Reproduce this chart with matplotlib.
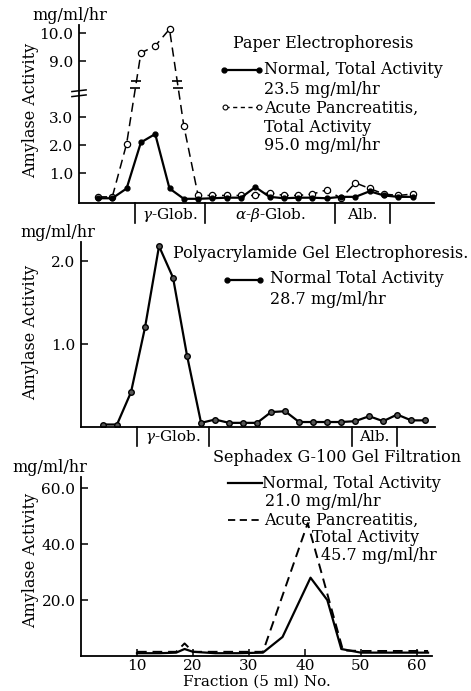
import numpy as np
import matplotlib.pyplot as plt
from matplotlib.lines import Line2D

plt.rcParams['font.family'] = ['DejaVu Serif']
plt.rcParams['mathtext.fontset'] = 'dejavuserif'

# ---- data ----
# Paper electrophoresis (fraction index)
paper_frac = np.arange(23)
paper_normal = [0.10, 0.10, 0.45, 2.10, 2.40, 0.45, 0.08, 0.08, 0.10, 0.12, 0.12, 0.50,
                0.15, 0.10, 0.12, 0.12, 0.10, 0.15, 0.15, 0.35, 0.20, 0.15, 0.15]
paper_acute = [0.15, 0.15, 2.05, 9.30, 9.55, 10.15, 2.70, 0.20, 0.20, 0.20, 0.20, 0.20,
               0.30, 0.20, 0.20, 0.25, 0.40, 0.10, 0.65, 0.45, 0.25, 0.20, 0.25]
paper_bounds = [2.6, 7.5, 16.6, 20.4]
paper_zones = ['$\\gamma$-Glob.', '$\\alpha$-$\\beta$-Glob.', 'Alb.']

# Polyacrylamide gel electrophoresis
pag_frac = np.arange(24)
pag_normal = [0.03, 0.03, 0.42, 1.20, 2.18, 1.80, 0.86, 0.05, 0.09, 0.05, 0.05, 0.05,
              0.18, 0.19, 0.06, 0.06, 0.06, 0.06, 0.07, 0.13, 0.07, 0.15, 0.08, 0.08]
pag_bounds = [2.45, 7.55, 17.8, 21.0]
pag_zones = ['$\\gamma$-Glob.', None, 'Alb.']

# Sephadex G-100 gel filtration (fraction no.)
seph_normal_x = [10, 14, 17, 18.5, 20, 24, 28, 32.5, 36, 41, 44, 46.5, 50, 54, 58, 62]
seph_normal_y = [1.0, 1.0, 1.2, 2.5, 1.5, 1.0, 1.0, 1.2, 6.8, 28.0, 20.0, 2.5, 1.2, 1.2, 1.2, 1.2]
seph_acute_x = [10, 14, 17, 18.5, 20, 24, 28, 32.5, 40.5, 46.8, 50, 54, 58, 62]
seph_acute_y = [1.5, 1.5, 1.5, 4.5, 1.5, 1.5, 1.5, 1.5, 47.5, 2.0, 1.8, 1.8, 1.8, 1.8]

W, H = 471, 691
fig = plt.figure(figsize=(W / 100, H / 100), dpi=100)


def box(l, t, r, b):
    return [l / W, 1 - b / H, (r - l) / W, (b - t) / H]


def fxy(x, y):
    return x / W, 1 - y / H


FS = 11.5
TFS = 11


def style(ax):
    for s in ['top', 'right']:
        ax.spines[s].set_visible(False)
    for s in ['left', 'bottom']:
        ax.spines[s].set_linewidth(1.3)
    ax.tick_params(direction='in', length=5, width=1.1, labelsize=TFS, pad=4)


# broken y scale for the paper electrophoresis panel
def fwd(y):
    y = np.asarray(y, float)
    return np.where(y <= 4, y, np.where(y >= 8, y - 4 + 0.004, 4 + (y - 4) * 0.001))


def inv(d):
    d = np.asarray(d, float)
    return np.where(d <= 4, d, np.where(d >= 4.004, d + 4 - 0.004, 4 + (d - 4) / 0.001))


def brackets(ax, bounds, zones, top_len, text_y):
    tr = ax.get_xaxis_transform()
    for b in bounds:
        ax.plot([b, b], [0, -top_len], color='k', lw=1.2, transform=tr, clip_on=False)
    for (a, b), z in zip(zip(bounds[:-1], bounds[1:]), zones):
        if z:
            ax.text((a + b) / 2, text_y, z, transform=tr, ha='center', va='center', fontsize=FS - 0.5)


# ---- top: paper electrophoresis ----
ax1 = fig.add_axes(box(79, 25, 434, 203))
style(ax1)
ax1.set_yscale('function', functions=(fwd, inv))
ax1.plot(paper_frac, paper_acute, color='k', lw=1.1, dashes=(6, 3.5),
         marker='o', ms=4.5, mfc='white', mec='k', mew=0.9)
ax1.plot(paper_frac, paper_normal, color='k', lw=1.6,
         marker='o', ms=3.5, mfc='k', mec='k')
# break marks on the dashed curve where it crosses the gap
d = fwd(paper_acute)
for lvl in [4.04, 4.30]:
    for i in range(len(d) - 1):
        if (d[i] - lvl) * (d[i + 1] - lvl) < 0:
            xc = paper_frac[i] + (lvl - d[i]) / (d[i + 1] - d[i])
            ax1.plot([xc], [inv(lvl)], marker='_', ms=7, mew=1.2, color='k')
ax1.set_xlim(-1.33, 23.5)
ax1.set_ylim(-0.07, 10.3)
ax1.set_yticks([1, 2, 3, 9, 10])
ax1.set_yticklabels(['1.0', '2.0', '3.0', '9.0', '10.0'])
ax1.set_xticks([])
# axis break
tr = ax1.get_yaxis_transform()
ax1.plot([-0.02, 0.02], [3.74, 3.80], color='k', lw=1.1, transform=tr, clip_on=False)
ax1.plot([-0.02, 0.02], [3.92, 3.98], color='k', lw=1.1, transform=tr, clip_on=False)
brackets(ax1, paper_bounds, paper_zones, 0.11, -0.07)

# ---- middle: polyacrylamide gel ----
ax2 = fig.add_axes(box(81, 242, 435, 427))
style(ax2)
ax2.plot(pag_frac, pag_normal, color='k', lw=1.6, marker='o', ms=4, mfc='#555555', mec='k', mew=1)
ax2.set_xlim(-1.57, 23.7)
ax2.set_ylim(0, 2.23)
ax2.set_yticks([1, 2])
ax2.set_yticklabels(['1.0', '2.0'])
ax2.set_xticks([])
brackets(ax2, pag_bounds, pag_zones, 0.105, -0.055)

# ---- bottom: Sephadex ----
ax3 = fig.add_axes(box(81, 477, 432, 656))
style(ax3)
ax3.plot(seph_acute_x, seph_acute_y, color='k', lw=1.4, dashes=(5, 3))
ax3.plot(seph_normal_x, seph_normal_y, color='k', lw=1.6)
ax3.set_xlim(0, 62.7)
ax3.set_ylim(0, 64)
ax3.set_yticks([20, 40, 60])
ax3.set_yticklabels(['20.0', '40.0', '60.0'])
ax3.set_xticks([10, 20, 30, 40, 50, 60])
ax3.tick_params(axis='x', pad=2)
ax3.set_xlabel('Fraction (5 ml) No.', fontsize=11, labelpad=1)

# ---- axis labels / units ----
for ax, ux, uy in [(ax1, 70, 15), (ax2, 58, 232), (ax3, 50, 468)]:
    fig.text(*fxy(ux, uy), 'mg/ml/hr', ha='center', va='center', fontsize=FS)
for ax, yy in [(ax1, 110), (ax2, 332), (ax3, 560)]:
    fig.text(*fxy(31, yy), 'Amylase Activity', rotation=90, ha='center', va='center', fontsize=FS)

# ---- legends ----
def leg_line(x0, x1, y, **kw):
    fig.add_artist(Line2D([x0 / W, x1 / W], [1 - y / H, 1 - y / H], color='k', **kw))


fig.text(*fxy(233, 43), 'Paper Electrophoresis', ha='left', va='center', fontsize=FS)
leg_line(224, 259, 70, lw=1.6)
fig.add_artist(Line2D([224 / W, 259 / W], [1 - 70 / H] * 2, ls='none', marker='o', ms=3.5,
                      mfc='k', mec='k'))
fig.text(*fxy(264, 69), 'Normal, Total Activity', va='center', fontsize=FS)
fig.text(*fxy(264, 90), '23.5 mg/ml/hr', va='center', fontsize=FS)
leg_line(225, 259, 107, lw=1.0, dashes=(3, 2.5))
fig.add_artist(Line2D([225 / W, 259 / W], [1 - 107 / H] * 2, ls='none', marker='o', ms=3.5,
                      mfc='white', mec='k', mew=0.8))
fig.text(*fxy(264, 108), 'Acute Pancreatitis,', va='center', fontsize=FS)
fig.text(*fxy(264, 127), 'Total Activity', va='center', fontsize=FS)
fig.text(*fxy(264, 145), '95.0 mg/ml/hr', va='center', fontsize=FS)

fig.text(*fxy(173, 253), 'Polyacrylamide Gel Electrophoresis.', va='center', fontsize=FS)
leg_line(227, 260, 280, lw=1.6)
fig.add_artist(Line2D([227 / W, 260 / W], [1 - 280 / H] * 2, ls='none', marker='o', ms=3.5,
                      mfc='k', mec='k'))
fig.text(*fxy(270, 279), 'Normal Total Activity', va='center', fontsize=FS)
fig.text(*fxy(270, 300), '28.7 mg/ml/hr', va='center', fontsize=FS)

fig.text(*fxy(213, 458), 'Sephadex G-100 Gel Filtration', va='center', fontsize=FS)
leg_line(228, 262, 483, lw=1.6)
fig.text(*fxy(262, 483), 'Normal, Total Activity', va='center', fontsize=FS)
fig.text(*fxy(265, 502), '21.0 mg/ml/hr', va='center', fontsize=FS)
leg_line(228, 262, 520, lw=1.3, dashes=(4, 2.5))
fig.text(*fxy(264, 520), 'Acute Pancreatitis,', va='center', fontsize=FS)
fig.text(*fxy(312, 537), 'Total Activity', va='center', fontsize=FS)
fig.text(*fxy(321, 555), '45.7 mg/ml/hr', va='center', fontsize=FS)

fig.savefig('out.png', dpi=100)
